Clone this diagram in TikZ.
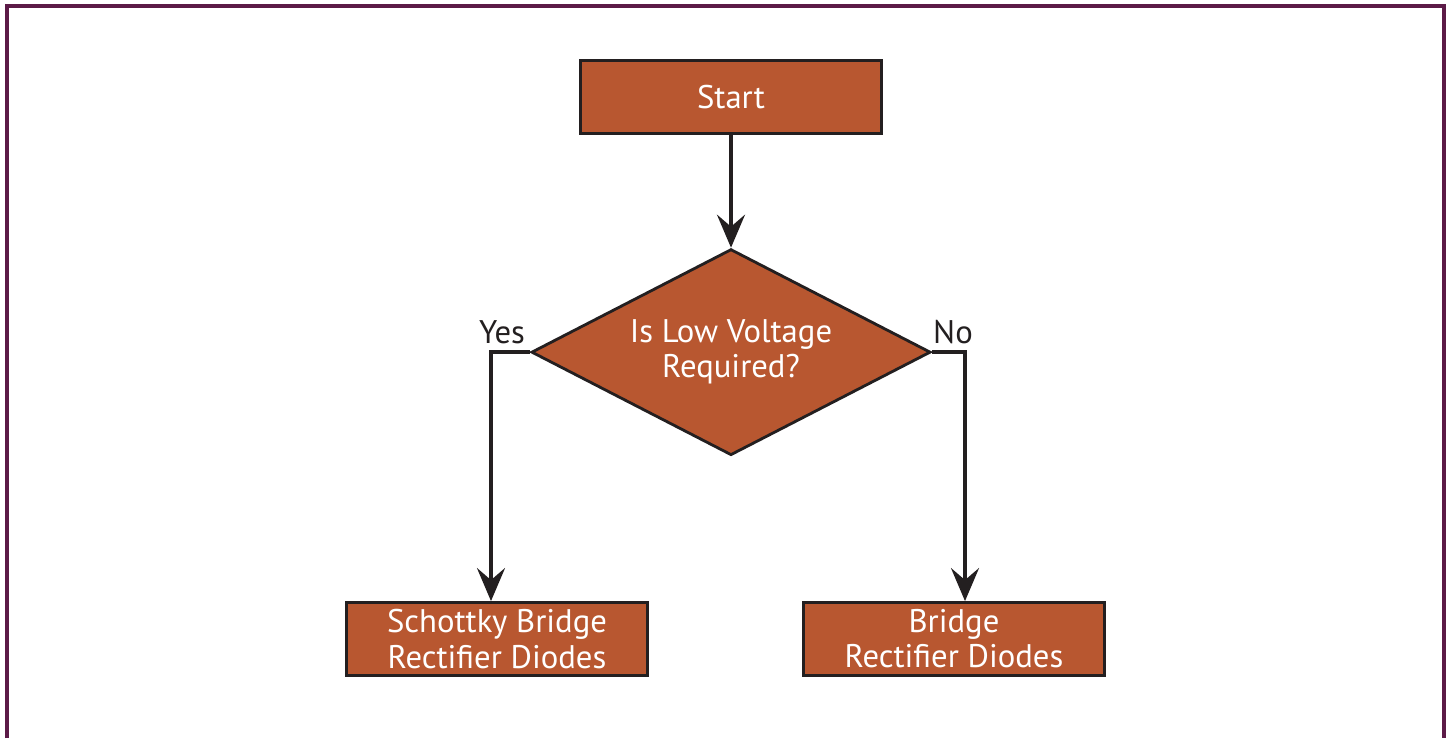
\documentclass[tikz,border=0pt]{standalone}
\usepackage{fontspec}
\setmainfont{PT Sans}
\usepackage{tikz}
\usetikzlibrary{shapes.geometric,arrows.meta}
\definecolor{boxfill}{HTML}{B85730}
\definecolor{edgecol}{HTML}{231F20}
\definecolor{framecol}{HTML}{5C1A47}
\tikzstyle{box}=[draw=edgecol, line width=0.8pt, fill=boxfill, text=white, minimum width=3.01cm, minimum height=0.73cm, inner sep=0pt, align=center, font=\fontsize{9.3}{10}\selectfont]
\tikzstyle{decision}=[diamond, shape aspect=1.94, draw=edgecol, line width=0.8pt, fill=boxfill, text=white, minimum width=3.99cm, minimum height=2.06cm, inner sep=0pt, align=center, font=\fontsize{9.3}{10}\selectfont]
\tikzstyle{flow}=[draw=edgecol, line width=1pt, -{Stealth[length=0.33cm, width=0.28cm, inset=0.12cm]}]
\tikzstyle{answer}=[text=edgecol, font=\fontsize{9.3}{10}\selectfont]

\begin{document}
\begin{tikzpicture}[x=0.01cm, y=0.01cm]
            \useasboundingbox (0,0) rectangle (1451,738);
            \draw [framecol, line width=0.9pt] (7,0) -- (7,732) -- (1444,732) -- (1444,0);
            \node [box] (start) at (731,641) {Start};
            \node [decision, below of=start, node distance=2.55cm] (volt) {Is Low Voltage\\Required?};
            \node [box] (schottky) at (497,99) {Schottky Bridge\\Rectifier Diodes};
            \node [box] (bridge) at (954,99) {Bridge\\Rectifier Diodes};
            \node [answer] (yes) at (502,406) {Yes};
            \node [answer] (no) at (953,406) {No};
            \path[flow] (start) -- (volt);
            \path[flow] (volt.west) -| ([xshift=-0.06cm]schottky.north);
            \path[flow] (volt.east) -| ([xshift=0.11cm]bridge.north);
        \end{tikzpicture}
\end{document}
